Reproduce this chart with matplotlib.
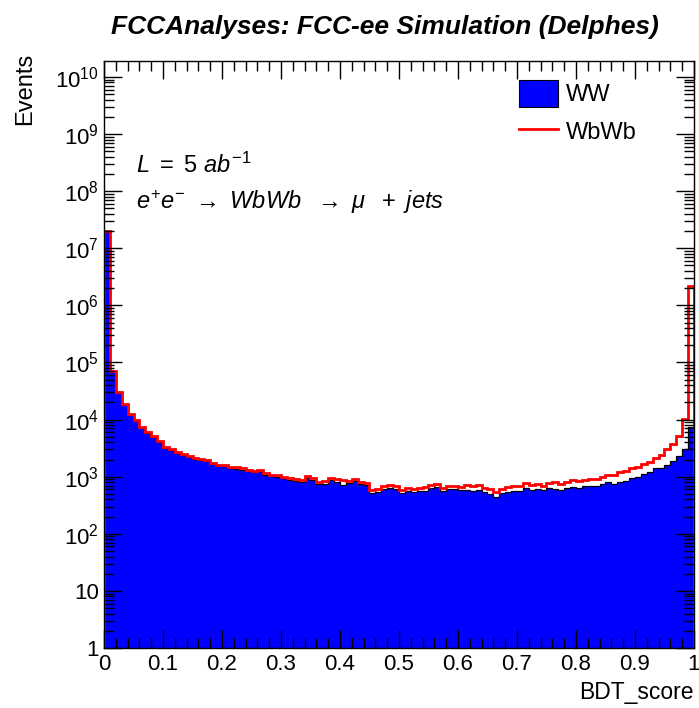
import numpy as np
import matplotlib
matplotlib.use("Agg")
import matplotlib.pyplot as plt
from matplotlib.ticker import FixedLocator, FuncFormatter, MultipleLocator
from matplotlib.lines import Line2D
from matplotlib.patches import Patch

plt.rcParams['font.family'] = ['Liberation Sans', 'DejaVu Sans']
plt.rcParams['mathtext.fontset'] = 'custom'
plt.rcParams['mathtext.rm'] = 'Liberation Sans'
plt.rcParams['mathtext.it'] = 'Liberation Sans:italic'
plt.rcParams['mathtext.bf'] = 'Liberation Sans:bold'

# 100 bins of BDT_score in [0, 1]
bin_edges = np.linspace(0, 1, 101)

# WW background per bin
ww = [1.95e7, 7.05e4, 3.04e4, 1.86e4, 1.235e4, 9800, 7250, 5880, 5000, 4110,
      3230, 2880, 2590, 2400, 2200, 2060, 1960, 1860, 1670, 1530,
      1520, 1420, 1390, 1330, 1250, 1210, 1260, 1090, 1010, 990,
      940, 880, 830, 800, 940, 880, 740, 760, 860, 800,
      720, 790, 830, 750, 720, 520, 550, 620, 640, 600,
      520, 560, 530, 560, 570, 630, 660, 560, 600, 610,
      580, 590, 560, 580, 530, 490, 440, 510, 540, 570,
      560, 630, 590, 610, 575, 640, 620, 585, 630, 660,
      640, 680, 700, 695, 750, 810, 735, 815, 850, 950,
      1000, 1120, 1220, 1430, 1400, 1600, 1900, 2350, 3000, 7400]

# WbWb signal per bin (stacked on top of WW)
wbwb = [5e5, 1500, 600, 400, 250, 200, 150, 120, 100, 90,
        70, 120, 110, 100, 100, 90, 90, 90, 80, 70,
        80, 80, 80, 70, 70, 70, 70, 60, 60, 60,
        60, 80, 70, 70, 80, 80, 60, 70, 80, 100,
        140, 65, 70, 70, 60, 70, 70, 80, 80, 80,
        70, 80, 70, 80, 80, 90, 90, 80, 80, 90,
        80, 130, 120, 130, 110, 110, 95, 110, 115, 130,
        120, 140, 130, 130, 125, 140, 180, 175, 190, 200,
        190, 200, 215, 205, 230, 240, 345, 385, 400, 450,
        480, 530, 570, 670, 1000, 1400, 1800, 2850, 7200, 2.19e6]

ww = np.array(ww)
stack_total = ww + np.array(wbwb)

fig = plt.figure(figsize=(6.99, 7.08), dpi=100)
ax = fig.add_axes([0.1488, 0.0847, 0.844, 0.8291])

ax.stairs(ww, bin_edges, baseline=1e-3, fill=True, color='#0000ff')
ax.stairs(ww, bin_edges, baseline=1e-3, color='black', lw=0.9)
ax.stairs(stack_total, bin_edges, baseline=1e-3, color='#ff0000', lw=2.0)

ax.set_yscale('log')
ax.set_xlim(0, 1)
ax.set_ylim(1, 1.9e10)

def ylab(v, pos):
    n = int(round(np.log10(v)))
    if n == 0:
        return '1'
    if n == 1:
        return '10'
    return r'$\mathregular{10^{%d}}$' % n

decades = 10.0 ** np.arange(0, 11)
minors = [m * d for d in 10.0 ** np.arange(0, 11) for m in range(2, 10) if m * d < 1.9e10]
ax.yaxis.set_major_locator(FixedLocator(decades))
ax.yaxis.set_minor_locator(FixedLocator(minors))
ax.yaxis.set_major_formatter(FuncFormatter(ylab))
ax.xaxis.set_major_locator(MultipleLocator(0.1))
ax.xaxis.set_minor_locator(MultipleLocator(0.02))
ax.xaxis.set_major_formatter(FuncFormatter(lambda v, p: '%g' % round(v, 2)))

ax.tick_params(which='both', direction='in', top=True, right=True, labelsize=16)
ax.tick_params(which='major', length=13, width=1)
ax.tick_params(which='minor', length=7, width=1)
ax.tick_params(axis='x', pad=4)
for s in ax.spines.values():
    s.set_linewidth(1)

fig.text(0.036, 0.925, 'Events', rotation=90, ha='center', va='top', fontsize=17)
fig.text(0.993, 0.006, 'BDT_score', ha='right', va='bottom', fontsize=16.5)
fig.text(0.55, 0.962, 'FCCAnalyses: FCC-ee Simulation (Delphes)', ha='center',
         va='center', fontsize=19, fontweight='bold', fontstyle='italic')

ax.text(0.055, 0.822, r'$L\ =\ 5\ ab^{-1}$', transform=ax.transAxes, fontsize=17,
        va='center')
ax.text(0.055, 0.76, r'$e^{+}e^{-}\ \rightarrow\ WbWb\ \ \rightarrow\ \mu\ \ +\ jets$',
        transform=ax.transAxes, fontsize=17, va='center')

handles = [Patch(facecolor='#0000ff', edgecolor='black', lw=0.8),
           Line2D([], [], color='#ff0000', lw=2)]
ax.legend(handles, ['WW', 'WbWb'], loc='upper left', bbox_to_anchor=(0.668, 1.004),
          frameon=False, fontsize=17, handlelength=1.65, handleheight=1.4,
          labelspacing=0.45, handletextpad=0.3)

fig.savefig('out.png', dpi=100)
